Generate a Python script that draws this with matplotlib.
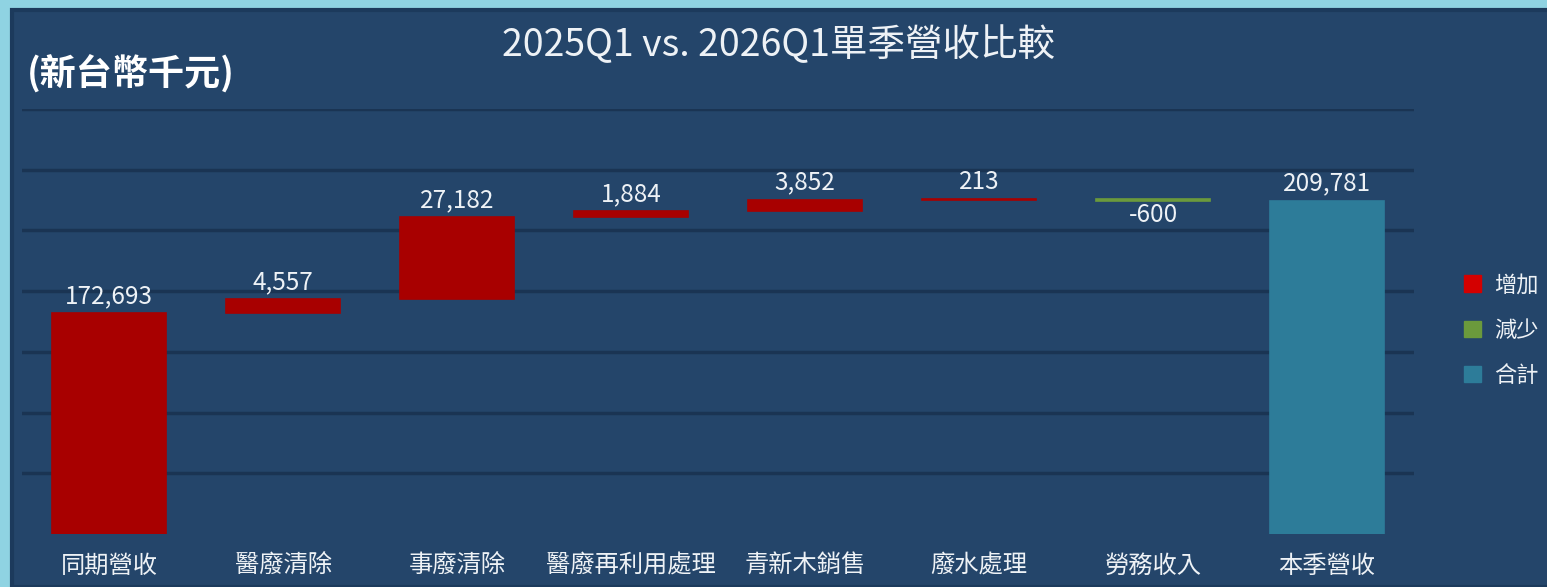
import matplotlib.pyplot as plt
from matplotlib.patches import Patch, Rectangle

plt.rcParams['font.family'] = ['Noto Sans CJK TC', 'DejaVu Sans']

categories = ['同期營收', '醫廢清除', '事廢清除', '醫廢再利用處理',
              '青新木銷售', '廢水處理', '勞務收入', '本季營收']
start_value = 172693
changes = [4557, 27182, 1884, 3852, 213, -600]
end_value = 209781
legend_labels = ['增加', '減少', '合計']

RED = '#a80000'
GREEN = '#6b9a3c'
TEAL = '#2d7c99'
PANEL = '#24456a'
GRID = '#1a3453'
TXT = '#eef2f6'


def main():
    fig = plt.figure(figsize=(15.47, 5.87), dpi=100)
    fig.patch.set_facecolor('#8fd3e2')
    # dark panel behind the chart
    fig.patches.append(Rectangle((12 / 1547, 0), 1, 1 - 10 / 587,
                                 transform=fig.transFigure, facecolor=PANEL,
                                 edgecolor='#1c3a5c', linewidth=3, zorder=-10))

    ax = fig.add_axes([22 / 1547, 1 - 534 / 587, (1414 - 22) / 1547, (534 - 109) / 587])
    ax.set_facecolor(PANEL)

    # waterfall geometry from the data
    bottoms, heights, colors = [0], [start_value], [RED]
    level = start_value
    for c in changes:
        if c >= 0:
            bottoms.append(level)
            heights.append(c)
            colors.append(RED)
        else:
            bottoms.append(level + c)
            heights.append(-c)
            colors.append(GREEN)
        level += c
    bottoms.append(0)
    heights.append(end_value)
    colors.append(TEAL)

    x = list(range(len(categories)))
    # thin edge keeps the tiny changes (213, -600) visible as lines
    ax.bar(x, heights, bottom=bottoms, width=0.66, color=colors,
           edgecolor=colors, linewidth=1.2, zorder=3)

    values = [start_value] + changes + [end_value]
    for i, v in enumerate(values):
        top = bottoms[i] + heights[i]
        if v >= 0:
            ax.annotate(f'{v:,}', (i, top), xytext=(0, 3), textcoords='offset points',
                        ha='center', va='bottom', color=TXT, fontsize=17.5, zorder=4)
        else:
            ax.annotate(f'{v:,}', (i, bottoms[i]), xytext=(0, -1), textcoords='offset points',
                        ha='center', va='top', color=TXT, fontsize=17.5, zorder=4)

    ax.set_xlim(-0.5, len(categories) - 0.5)
    ax.set_ylim(100000, 240000)
    ax.set_yticks(range(120000, 240001, 20000))
    ax.yaxis.grid(True, color=GRID, linewidth=2.5, zorder=1)
    ax.tick_params(axis='y', left=False, labelleft=False)
    ax.set_xticks(x)
    ax.set_xticklabels(categories, color=TXT, fontsize=17.5)
    ax.tick_params(axis='x', bottom=False, pad=10)
    for s in ax.spines.values():
        s.set_visible(False)

    fig.text(779 / 1547, 1 - 46 / 587, '2025Q1 vs. 2026Q1單季營收比較',
             ha='center', va='center', color=TXT, fontsize=27)
    fig.text(27 / 1547, 1 - 74 / 587, '(新台幣千元)', ha='left', va='center',
             color='white', fontsize=26, fontweight='bold')

    handles = [Patch(color='#d40000'), Patch(color=GREEN), Patch(color=TEAL)]
    leg = fig.legend(handles, legend_labels, loc='center left',
                     bbox_to_anchor=(1444 / 1547, 1 - 330 / 587), frameon=False,
                     fontsize=16, handlelength=0.75, handleheight=0.75,
                     labelspacing=1.0, handletextpad=0.6)
    for t in leg.get_texts():
        t.set_color(TXT)

    fig.savefig('out.png', dpi=100, facecolor=fig.get_facecolor())


if __name__ == '__main__':
    main()
